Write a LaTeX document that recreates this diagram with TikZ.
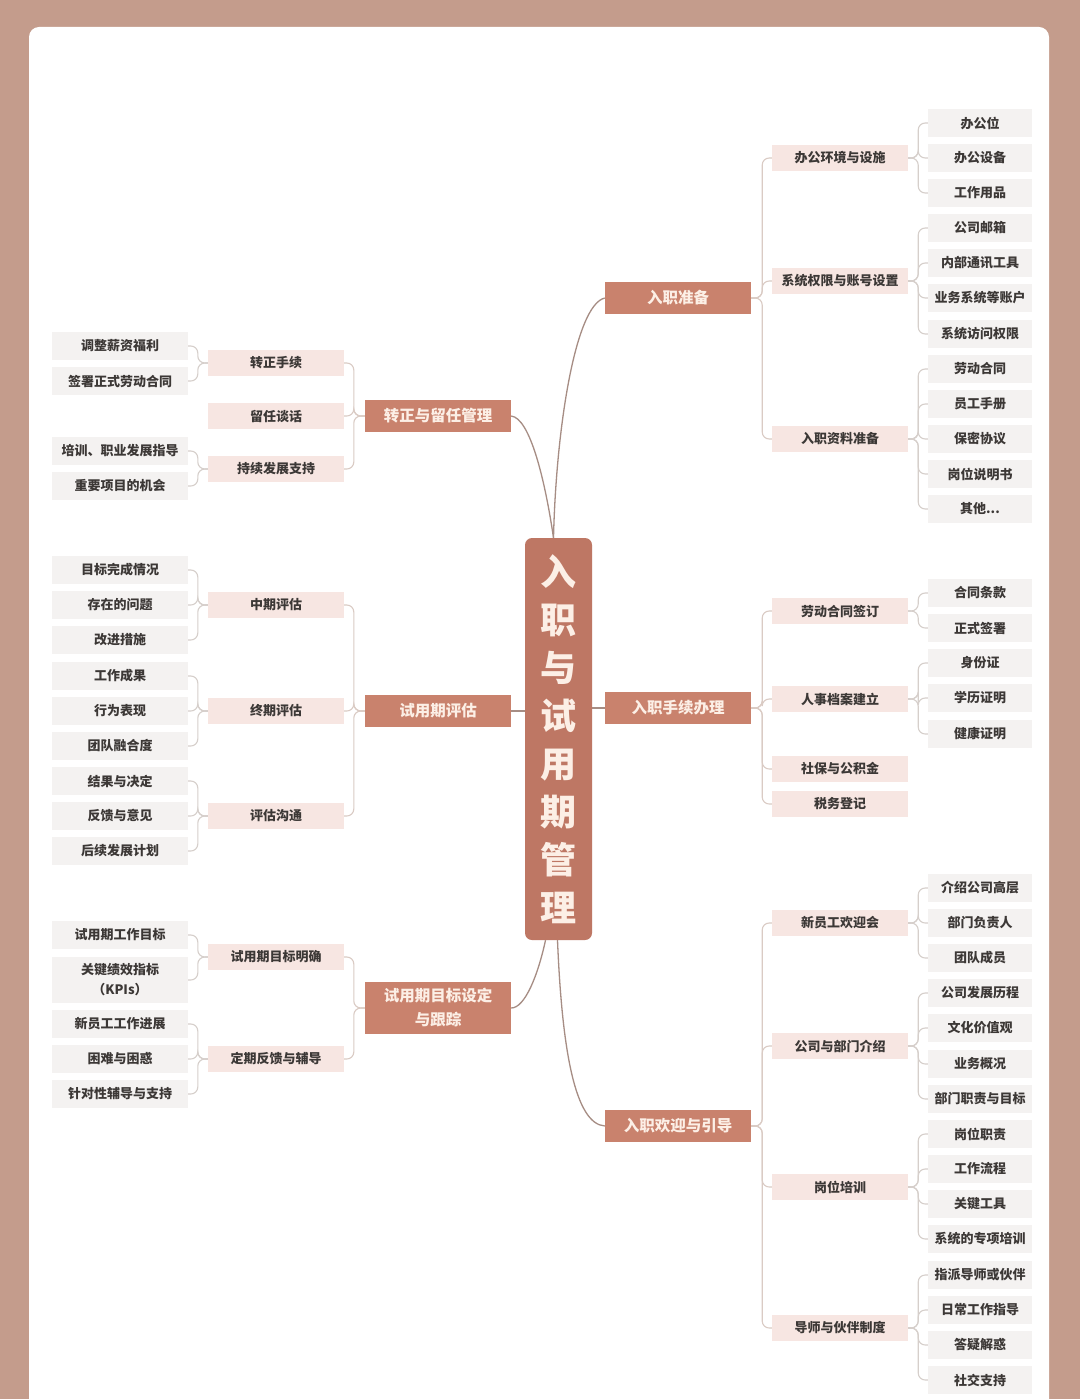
\documentclass[tikz,border=0pt]{standalone}
\usepackage{fontspec}
\setmainfont{Noto Sans CJK SC}
\usetikzlibrary{backgrounds}
\definecolor{framec}{HTML}{C49C8C}
\definecolor{mainc}{HTML}{BE7764}
\definecolor{lvonec}{HTML}{C9826D}
\definecolor{lvtwoc}{HTML}{F7E6E2}
\definecolor{leafc}{HTML}{F4F2F1}
\definecolor{lighttext}{HTML}{FCEFE6}
\definecolor{darktext}{HTML}{3C3836}
\definecolor{curvec}{HTML}{A68D84}
\definecolor{brac}{HTML}{DACBC4}
\definecolor{leafline}{HTML}{D6CFCB}
\tikzset{
  centralbox/.style={draw=none, fill=mainc, rounded corners=7pt, minimum width=67pt, minimum height=402pt, inner sep=0pt, align=center, text=lighttext, font=\fontsize{36}{48}\selectfont\bfseries},
  lvone/.style={fill=lvonec, minimum width=146pt, minimum height=32pt, inner sep=0pt, align=center, text=lighttext, font=\fontsize{15.5}{24}\selectfont\bfseries},
  lvtwo/.style={fill=lvtwoc, minimum width=136pt, minimum height=26pt, inner sep=0pt, align=center, text=darktext, font=\fontsize{13}{16}\selectfont\bfseries},
  rleaf/.style={fill=leafc, minimum width=104pt, minimum height=28pt, inner sep=0pt, align=center, text=darktext, font=\fontsize{13}{16}\selectfont\bfseries},
  lleaf/.style={rleaf, minimum width=136pt},
  maincurve/.style={draw=curvec, line width=1.3pt},
  bracket/.style={draw=brac, line width=1.1pt, rounded corners=7pt},
  leafbracket/.style={draw=leafline, line width=1.1pt, rounded corners=7pt}
}
\begin{document}
\begin{tikzpicture}[x=1pt,y=-1pt]
\useasboundingbox (0,0) rectangle (1080,1399);
% central
\node[centralbox] (C) at (558.5,739) {入\\职\\与\\试\\用\\期\\管\\理};
% level one
\node[lvone] (R1) at (678,298) {入职准备};
\node[lvone] (R2) at (678,708) {入职手续办理};
\node[lvone] (R3) at (678,1126) {入职欢迎与引导};
\node[lvone] (L1) at (438,416) {转正与留任管理};
\node[lvone] (L2) at (438,711) {试用期评估};
\node[lvone, minimum height=52pt] (L3) at (438,1008) {试用期目标设定\\与跟踪};
% right level two
\node[lvtwo] (r11) at (840,158) {办公环境与设施};
\node[lvtwo] (r12) at (840,281) {系统权限与账号设置};
\node[lvtwo] (r13) at (840,439) {入职资料准备};
\node[lvtwo] (r21) at (840,611) {劳动合同签订};
\node[lvtwo] (r22) at (840,699) {人事档案建立};
\node[lvtwo] (r23) at (840,769) {社保与公积金};
\node[lvtwo] (r24) at (840,804) {税务登记};
\node[lvtwo] (r31) at (840,923) {新员工欢迎会};
\node[lvtwo] (r32) at (840,1046) {公司与部门介绍};
\node[lvtwo] (r33) at (840,1187) {岗位培训};
\node[lvtwo] (r34) at (840,1328) {导师与伙伴制度};
% left level two
\node[lvtwo] (l11) at (276,363) {转正手续};
\node[lvtwo] (l12) at (276,416) {留任谈话};
\node[lvtwo] (l13) at (276,469) {持续发展支持};
\node[lvtwo] (l21) at (276,605) {中期评估};
\node[lvtwo] (l22) at (276,711) {终期评估};
\node[lvtwo] (l23) at (276,816) {评估沟通};
\node[lvtwo] (l31) at (276,957) {试用期目标明确};
\node[lvtwo] (l32) at (276,1059) {定期反馈与辅导};
% right leaves
\node[rleaf] (r11a) at (980,123) {办公位};
\node[rleaf] (r11b) at (980,158) {办公设备};
\node[rleaf] (r11c) at (980,193) {工作用品};
\node[rleaf] (r12a) at (980,228) {公司邮箱};
\node[rleaf] (r12b) at (980,263) {内部通讯工具};
\node[rleaf] (r12c) at (980,298) {业务系统等账户};
\node[rleaf] (r12d) at (980,334) {系统访问权限};
\node[rleaf] (r13a) at (980,369) {劳动合同};
\node[rleaf] (r13b) at (980,404) {员工手册};
\node[rleaf] (r13c) at (980,439) {保密协议};
\node[rleaf] (r13d) at (980,474) {岗位说明书};
\node[rleaf] (r13e) at (980,509) {其他...};
\node[rleaf] (r21a) at (980,593) {合同条款};
\node[rleaf] (r21b) at (980,628) {正式签署};
\node[rleaf] (r22a) at (980,663) {身份证};
\node[rleaf] (r22b) at (980,698) {学历证明};
\node[rleaf] (r22c) at (980,734) {健康证明};
\node[rleaf] (r31a) at (980,888) {介绍公司高层};
\node[rleaf] (r31b) at (980,923) {部门负责人};
\node[rleaf] (r31c) at (980,958) {团队成员};
\node[rleaf] (r32a) at (980,993) {公司发展历程};
\node[rleaf] (r32b) at (980,1028) {文化价值观};
\node[rleaf] (r32c) at (980,1064) {业务概况};
\node[rleaf] (r32d) at (980,1099) {部门职责与目标};
\node[rleaf] (r33a) at (980,1134) {岗位职责};
\node[rleaf] (r33b) at (980,1169) {工作流程};
\node[rleaf] (r33c) at (980,1204) {关键工具};
\node[rleaf] (r33d) at (980,1239) {系统的专项培训};
\node[rleaf] (r34a) at (980,1275) {指派导师或伙伴};
\node[rleaf] (r34b) at (980,1310) {日常工作指导};
\node[rleaf] (r34c) at (980,1345) {答疑解惑};
\node[rleaf] (r34d) at (980,1380) {社交支持};
% left leaves
\node[lleaf] (l11a) at (120,346) {调整薪资福利};
\node[lleaf] (l11b) at (120,381) {签署正式劳动合同};
\node[lleaf] (l13a) at (120,451) {培训、职业发展指导};
\node[lleaf] (l13b) at (120,486) {重要项目的机会};
\node[lleaf] (l21a) at (120,570) {目标完成情况};
\node[lleaf] (l21b) at (120,605) {存在的问题};
\node[lleaf] (l21c) at (120,640) {改进措施};
\node[lleaf] (l22a) at (120,676) {工作成果};
\node[lleaf] (l22b) at (120,711) {行为表现};
\node[lleaf] (l22c) at (120,746) {团队融合度};
\node[lleaf] (l23a) at (120,781) {结果与决定};
\node[lleaf] (l23b) at (120,816) {反馈与意见};
\node[lleaf] (l23c) at (120,851) {后续发展计划};
\node[lleaf] (l31a) at (120,935) {试用期工作目标};
\node[lleaf, minimum height=46pt, font=\fontsize{13}{20}\selectfont\bfseries] (l31b) at (120,980) {关键绩效指标\\（KPIs）};
\node[lleaf] (l32a) at (120,1024) {新员工工作进展};
\node[lleaf] (l32b) at (120,1059) {困难与困惑};
\node[lleaf] (l32c) at (120,1094) {针对性辅导与支持};
\coordinate (ct) at ([xshift=-5pt]C.north);
\coordinate (cbl) at ([xshift=-13pt]C.south);
\coordinate (cbr) at ([xshift=-1pt]C.south);
\begin{pgfonlayer}{background}
\fill[framec] (0,0) rectangle (1080,1399);
\fill[white, rounded corners=10pt] (29,27) rectangle (1049,1430);
% main curves
\draw[maincurve] (ct) .. controls (556,430) and (575,305) .. (R1.west);
\draw[maincurve] (ct) .. controls (545,480) and (530,418) .. (L1.east);
\draw[maincurve] (cbl) .. controls (538,975) and (525,1008) .. (L3.east);
\draw[maincurve] (cbr) .. controls (562,1050) and (575,1124) .. (R3.west);
\draw[maincurve] (R2.west) -- (R2.west -| C.east);
\draw[maincurve] (L2.east) -- (L2.east -| C.west);
% level one to level two
\foreach \c in {r11,r12,r13} \draw[bracket] (R1.east) -- ++(11,0) |- (\c.west);
\foreach \c in {r21,r22,r23,r24} \draw[bracket] (R2.east) -- ++(11,0) |- (\c.west);
\foreach \c in {r31,r32,r33,r34} \draw[bracket] (R3.east) -- ++(11,0) |- (\c.west);
\foreach \c in {l11,l12,l13} \draw[bracket] (L1.west) -- ++(-11,0) |- (\c.east);
\foreach \c in {l21,l22,l23} \draw[bracket] (L2.west) -- ++(-11,0) |- (\c.east);
\foreach \c in {l31,l32} \draw[bracket] (L3.west) -- ++(-11,0) |- (\c.east);
% level two to leaves
\foreach \p/\n in {r11/a,r11/b,r11/c,r12/a,r12/b,r12/c,r12/d,r13/a,r13/b,r13/c,r13/d,r13/e,r21/a,r21/b,r22/a,r22/b,r22/c,r31/a,r31/b,r31/c,r32/a,r32/b,r32/c,r32/d,r33/a,r33/b,r33/c,r33/d,r34/a,r34/b,r34/c,r34/d}
  \draw[leafbracket] (\p.east) -- ++(10,0) |- (\p\n.west);
\foreach \p/\n in {l11/a,l11/b,l13/a,l13/b,l21/a,l21/b,l21/c,l22/a,l22/b,l22/c,l23/a,l23/b,l23/c,l31/a,l31/b,l32/a,l32/b,l32/c}
  \draw[leafbracket] (\p.west) -- ++(-10,0) |- (\p\n.east);
\end{pgfonlayer}
\end{tikzpicture}
\end{document}
